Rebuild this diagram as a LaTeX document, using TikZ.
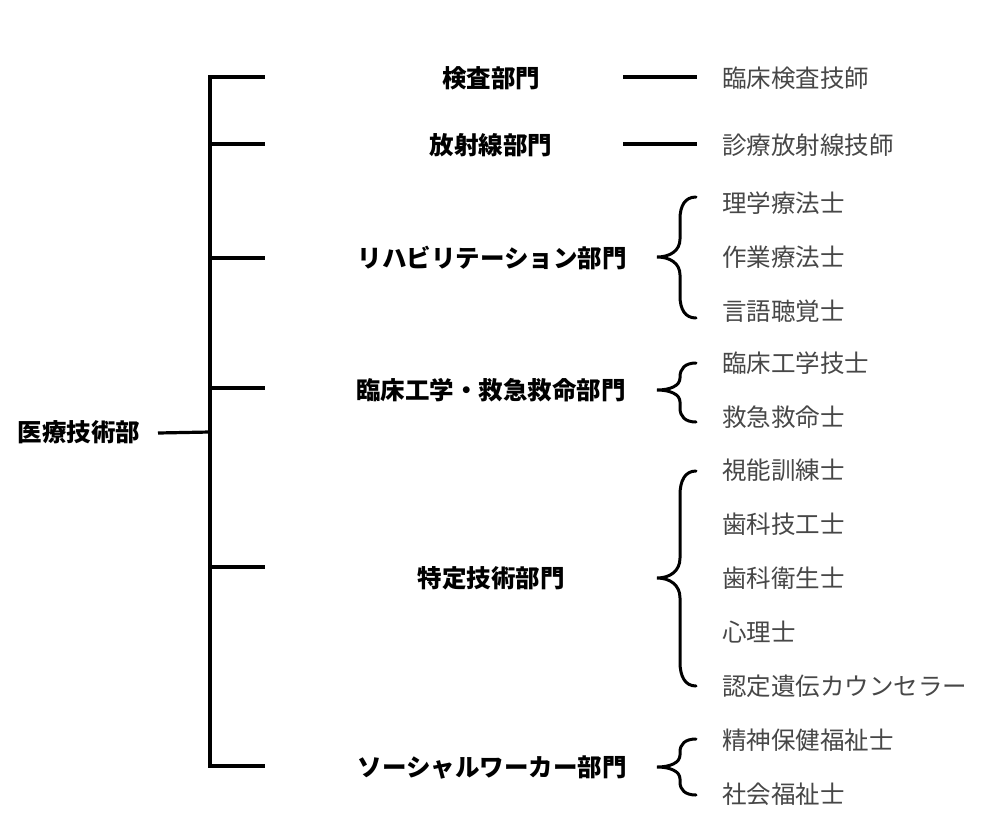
\documentclass[tikz,border=0pt]{standalone}
\usepackage{fontspec}
\setmainfont{Noto Sans CJK JP}
\begin{document}
\begin{tikzpicture}[x=1pt,y=-1pt,
  ln/.style={line width=3.2pt,line cap=butt},
  br/.style={line width=3pt,line cap=round},
  dept/.style={font=\fontsize{24.5}{28}\selectfont\bfseries,inner sep=0pt,anchor=center},
  job/.style={font=\fontsize{24.5}{28}\selectfont,text=black!72,inner sep=0pt,anchor=west},
  rootn/.style={font=\fontsize{24.5}{28}\selectfont\bfseries,inner sep=0pt,anchor=center}]
\useasboundingbox (0,0) rectangle (992,822);
\fill[white] (0,0) rectangle (992,822);
% root
\node[rootn] (root) at (79,432) {医療技術部};
\coordinate (rs) at (158,433);
\coordinate (ttop) at (210,77);
\coordinate (tbot) at (210,766);
\coordinate (tmid) at (210,432);
\draw[ln] (rs) -- (tmid);
\draw[ln] (ttop) -- (tbot);
% branches
\foreach \y/\n in {77/a,144/b,258/c,388/d,567/e,766/f}{
  \coordinate (s\n) at (210,\y);
  \coordinate (e\n) at (265,\y);
  \draw[ln] ([xshift=-1.6pt]s\n) -- (e\n);
}
% departments
\node[dept] (d1) at (491,78) {検査部門};
\node[dept] (d2) at (491,145) {放射線部門};
\node[dept] (d3) at (492,258) {リハビリテーション部門};
\node[dept] (d4) at (491,390) {臨床工学・救急救命部門};
\node[dept] (d5) at (491,578) {特定技術部門};
\node[dept] (d6) at (492,767) {ソーシャルワーカー部門};
% jobs
\node[job] (j1) at (722,78) {臨床検査技師};
\node[job] (j2) at (722,145) {診療放射線技師};
\node[job] (j3) at (722,203) {理学療法士};
\node[job] (j4) at (722,257) {作業療法士};
\node[job] (j5) at (722,311) {言語聴覚士};
\node[job] (j6) at (722,363) {臨床工学技士};
\node[job] (j7) at (722,417) {救急救命士};
\node[job] (j8) at (722,470) {視能訓練士};
\node[job] (j9) at (722,524) {歯科技工士};
\node[job] (j10) at (722,578) {歯科衛生士};
\node[job] (j11) at (722,632) {心理士};
\node[job] (j12) at (722,686) {認定遺伝カウンセラー};
\node[job] (j13) at (722,740) {精神保健福祉士};
\node[job] (j14) at (722,794) {社会福祉士};
% single connectors
\coordinate (c1a) at (623,77); \coordinate (c1b) at (697,77);
\coordinate (c2a) at (623,144); \coordinate (c2b) at (697,144);
\draw[ln] (c1a) -- (c1b);
\draw[ln] (c2a) -- (c2b);
% braces: top y, tip y, bottom y, end radius, tip radius
\foreach \t/\m/\b/\r/\q in {197/257/318/22/18, 363/390/422/14/12, 471/578/686/24/20, 739/767/795/13/12}{
  \draw[br] (696,\t) .. controls (685,\t) and (680,\t+\r*0.4) .. (680,\t+\r)
    -- (680,\m-\q) .. controls (680,\m-\q*0.35) and (670,\m) .. (657,\m)
    .. controls (670,\m) and (680,\m+\q*0.35) .. (680,\m+\q)
    -- (680,\b-\r) .. controls (680,\b-\r*0.4) and (685,\b) .. (696,\b);
}
\end{tikzpicture}
\end{document}
